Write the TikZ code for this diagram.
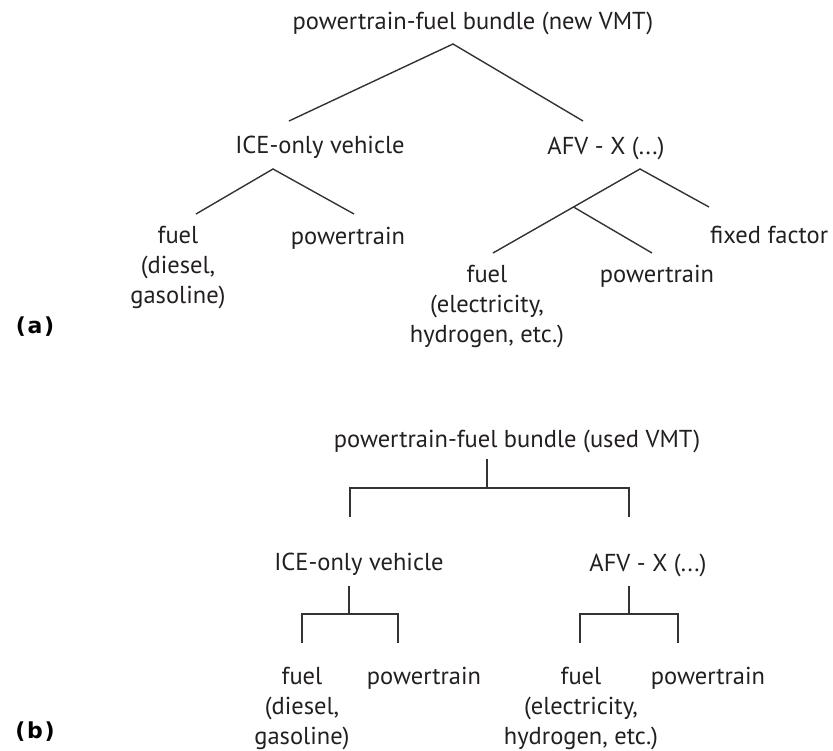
\documentclass[tikz,border=0pt]{standalone}
\usepackage{fontspec}
\setmainfont{PT Sans}
\newfontfamily\labfont[LetterSpace=8]{DejaVu Sans}
\definecolor{txtc}{HTML}{231F20}
\definecolor{linec}{HTML}{333333}
\begin{document}
\begin{tikzpicture}[x=1pt,y=-1pt,
  lbl/.style={anchor=base, inner sep=0pt, text=txtc, font=\fontsize{24.5}{28}\selectfont},
  tag/.style={anchor=center, inner sep=0pt, text=black, font=\labfont\bfseries\fontsize{22}{26}\selectfont},
  conn/.style={draw=linec, line width=1.4pt, line join=miter}]
\useasboundingbox (0,0) rectangle (833,751);

% ---------- (a) ----------
\node[lbl] (titleA) at (473,30) {powertrain-fuel bundle (new VMT)};
\node[lbl] (iceA) at (320,154) {ICE-only vehicle};
\node[lbl] (afvA) at (606,155) {AFV - X (...)};
\node[lbl] (fuelA) at (178,244) {fuel};
\node[lbl] (fuelA2) at (178,274) {(diesel,};
\node[lbl] (fuelA3) at (178,304) {gasoline)};
\node[lbl] (ptA) at (348,245) {powertrain};
\node[lbl, anchor=base west] (fixA) at (710,244) {fixed factor};
\node[lbl] (fuelB) at (487,283) {fuel};
\node[lbl] (fuelB2) at (487,313) {(electricity,};
\node[lbl] (fuelB3) at (487,343) {hydrogen, etc.)};
\node[lbl] (ptB) at (657,283) {powertrain};
\node[tag] (labA) at (35,327) {(a)};

\coordinate (aTop) at (453,44);
\coordinate (aL) at (289,121);
\coordinate (aR) at (583,121);
\coordinate (iTop) at (273,169);
\coordinate (iL) at (196,214);
\coordinate (iR) at (354,214);
\coordinate (xTop) at (640,169);
\coordinate (xR) at (709,207);
\coordinate (xL) at (493,253);
\coordinate (xM) at (573.5,207);
\coordinate (xP) at (652,253);

\draw[conn] (aL) -- (aTop) -- (aR);
\draw[conn] (iL) -- (iTop) -- (iR);
\draw[conn] (xL) -- (xTop) -- (xR);
\draw[conn] (xM) -- (xP);

% ---------- (b) ----------
\node[lbl] (titleB) at (517,447) {powertrain-fuel bundle (used VMT)};
\node[lbl] (iceB) at (359,570) {ICE-only vehicle};
\node[lbl] (afvB) at (648,571) {AFV - X (...)};
\node[lbl] (fuelC) at (302,684) {fuel};
\node[lbl] (fuelC2) at (302,714) {(diesel,};
\node[lbl] (fuelC3) at (302,744) {gasoline)};
\node[lbl] (ptC) at (424,684) {powertrain};
\node[lbl] (fuelD) at (581,684) {fuel};
\node[lbl] (fuelD2) at (581,714) {(electricity,};
\node[lbl] (fuelD3) at (581,744) {hydrogen, etc.)};
\node[lbl] (ptD) at (708,684) {powertrain};
\node[tag] (labB) at (35,732) {(b)};

\coordinate (bS) at (487,459);
\coordinate (bJ) at (487,488);
\coordinate (bL) at (350,488);
\coordinate (bR) at (629,488);
\coordinate (bLd) at (350,517);
\coordinate (bRd) at (629,517);
\draw[conn] (bS) -- (bJ);
\draw[conn] (bLd) -- (bL) -- (bR) -- (bRd);

\coordinate (cS) at (349,586);
\coordinate (cJ) at (349,614);
\coordinate (cL) at (302,614);
\coordinate (cR) at (398,614);
\coordinate (cLd) at (302,643);
\coordinate (cRd) at (398,643);
\draw[conn] (cS) -- (cJ);
\draw[conn] (cLd) -- (cL) -- (cR) -- (cRd);

\coordinate (dS) at (629,586);
\coordinate (dJ) at (629,614);
\coordinate (dL) at (580,614);
\coordinate (dR) at (678,614);
\coordinate (dLd) at (580,643);
\coordinate (dRd) at (678,643);
\draw[conn] (dS) -- (dJ);
\draw[conn] (dLd) -- (dL) -- (dR) -- (dRd);
\end{tikzpicture}
\end{document}
